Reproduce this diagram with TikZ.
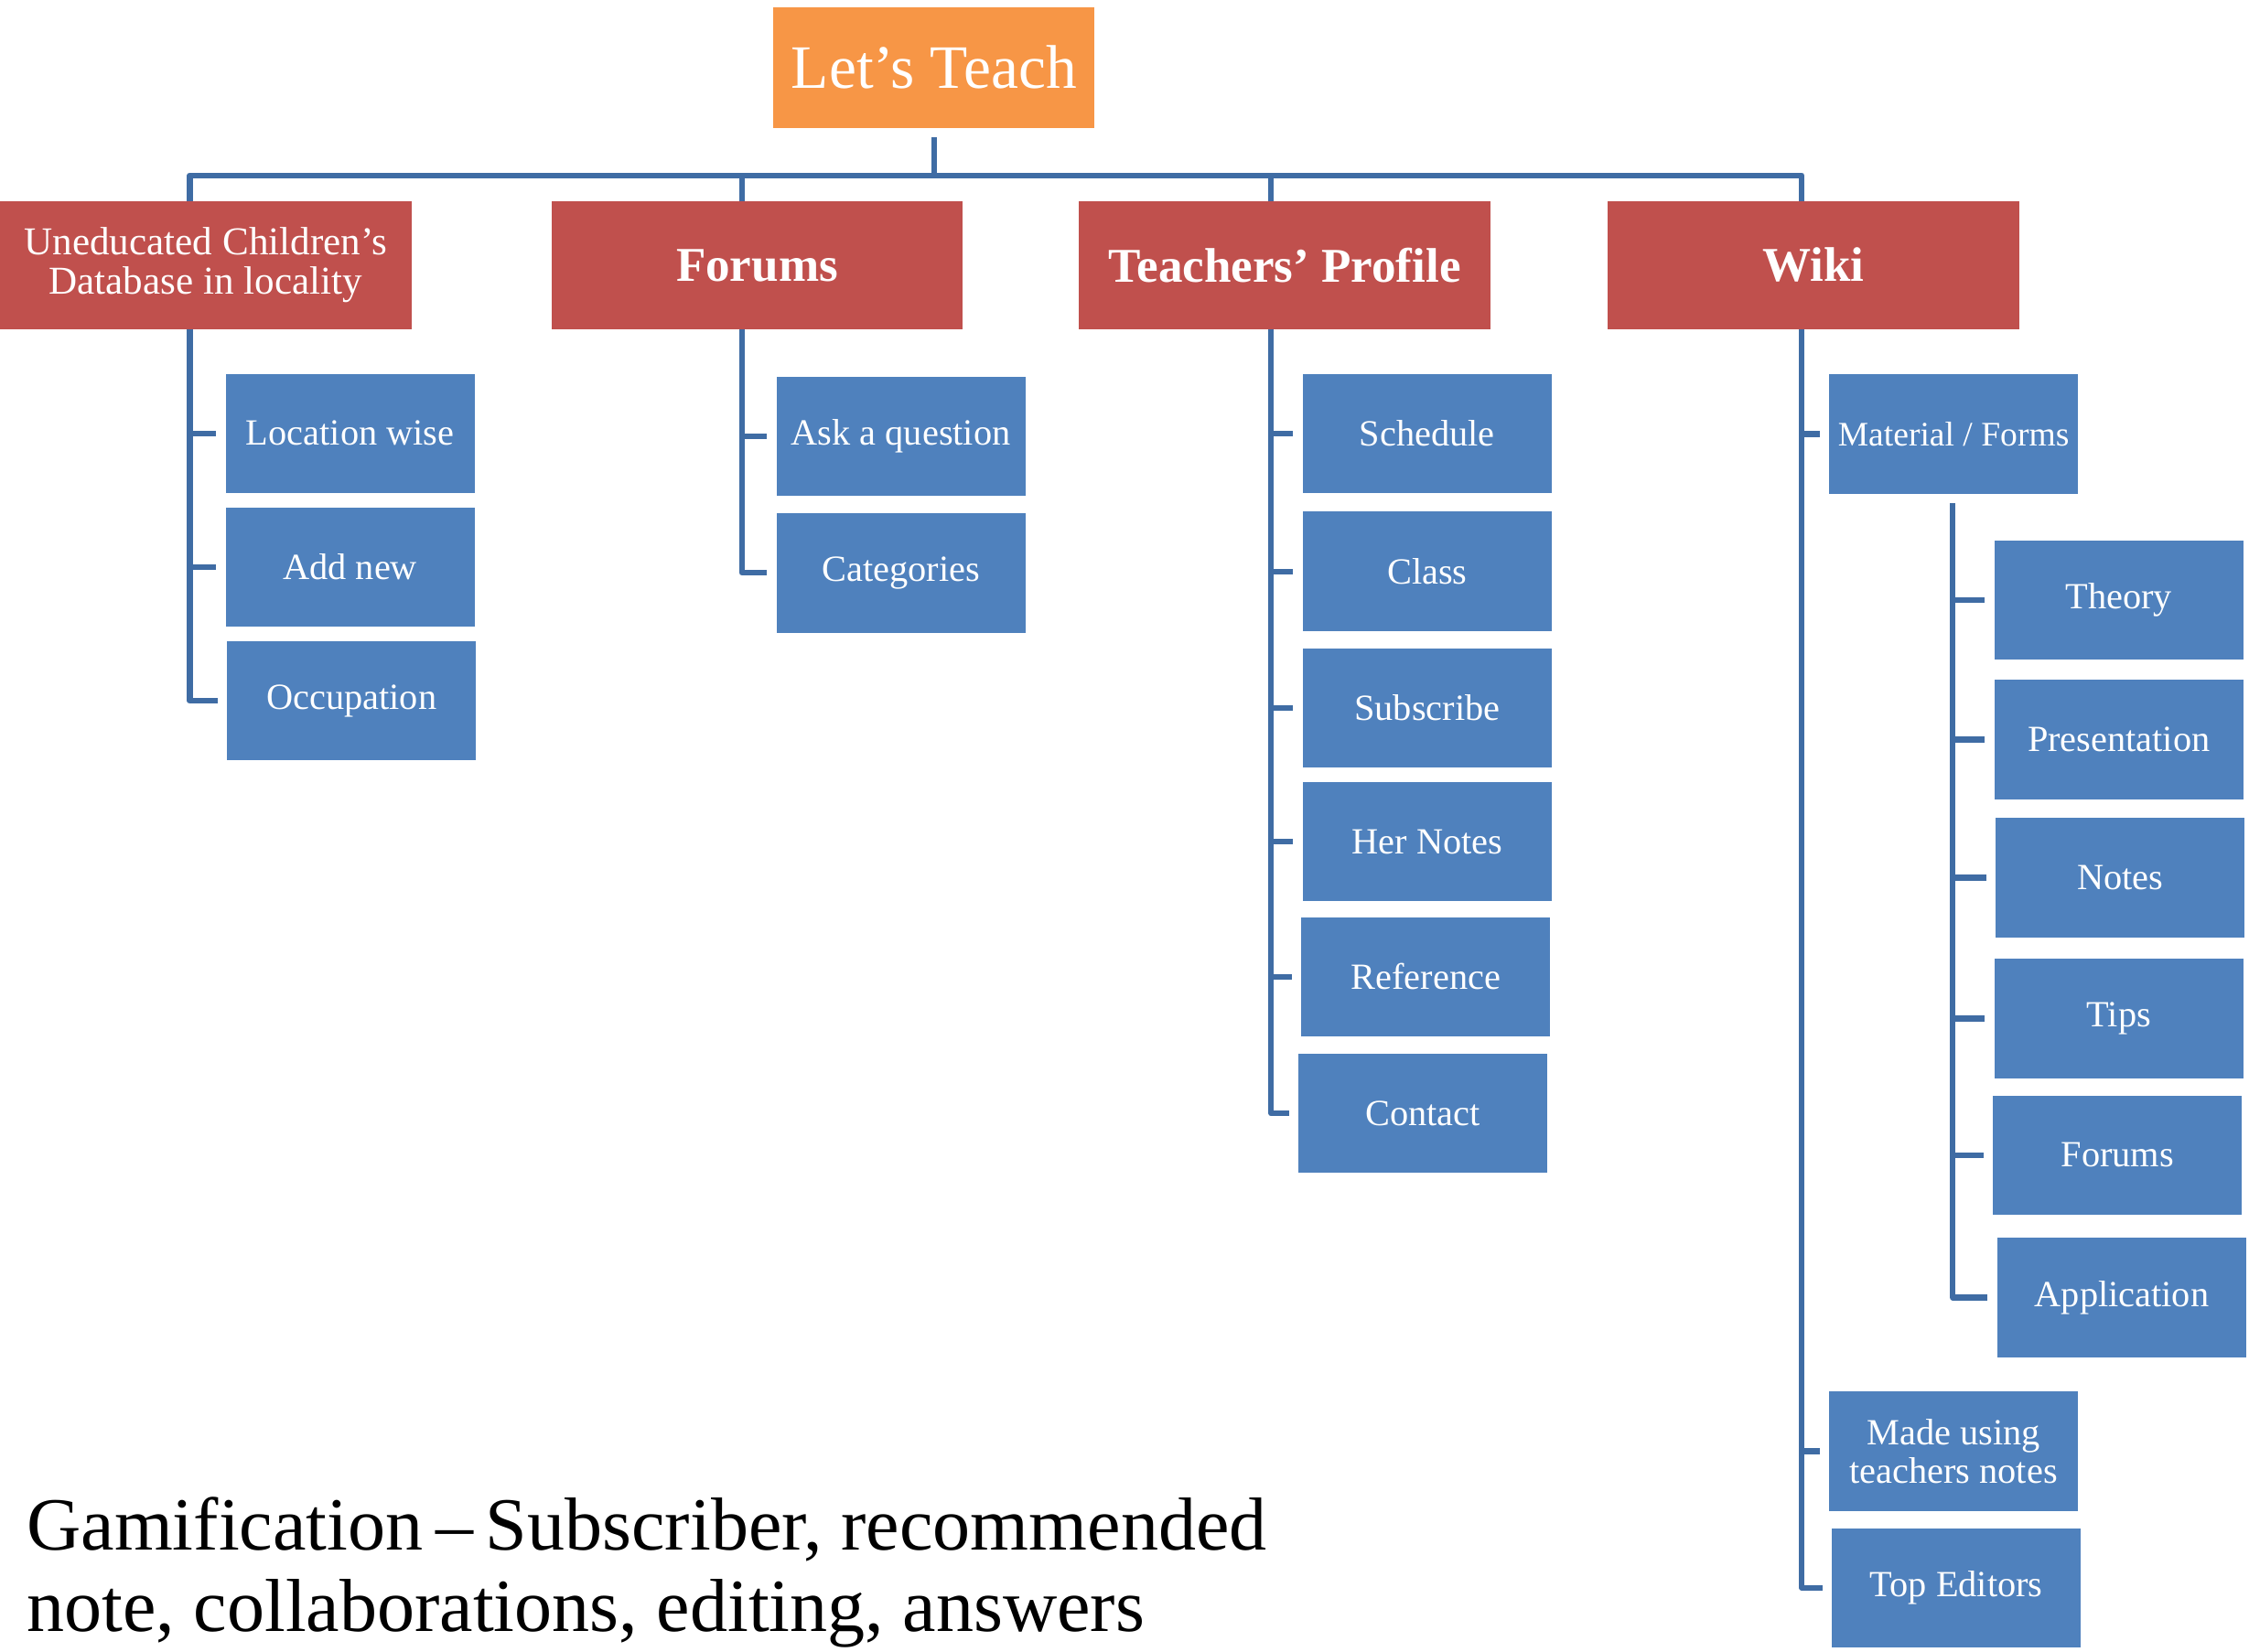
\documentclass[tikz,border=0pt]{standalone}
\usepackage{fontspec}
\setmainfont{Liberation Serif}
\definecolor{teachorange}{HTML}{F79646}
\definecolor{headred}{HTML}{C0504D}
\definecolor{leafblue}{HTML}{4F81BD}
\definecolor{linkblue}{HTML}{3F6CA4}
\newcommand\branchto[2]{\draw[link] (#1) |- ([xshift=-.06cm]#2.west);}

\begin{document}
\begin{tikzpicture}[x=.01cm,y=-.01cm,
    rootbox/.style={fill=teachorange,text=white,minimum width=2.23cm,minimum height=.84cm,inner sep=0pt,font=\fontsize{12.2}{14}\selectfont},
    headbox/.style={fill=headred,text=white,minimum width=2.86cm,minimum height=.89cm,inner sep=0pt,align=center,font=\bfseries\fontsize{9.6}{11}\selectfont},
    leaf/.style={fill=leafblue,text=white,minimum width=1.73cm,minimum height=.83cm,inner sep=0pt,align=center,font=\fontsize{7.3}{7.7}\selectfont},
    link/.style={draw=linkblue,line width=.04cm,line join=round}]
    \useasboundingbox (0,0) rectangle (1564,1149);

    \node(root)[rootbox] at (649.5,47){Let’s Teach};

    \node(db)[headbox,font=\fontsize{7.8}{7.7}\selectfont] at (143,184.5){Uneducated Children’s\\Database in locality};
    \node(fo)[headbox] at (526.5,184.5){Forums};
    \node(tp)[headbox] at (893.5,184.5){Teachers’ Profile};
    \node(wk)[headbox] at (1261,184.5){Wiki};

    \node(lw)[leaf] at (243.5,301.5){Location wise};
    \node(an)[leaf] at (243.5,394.5){Add new};
    \node(oc)[leaf] at (244.5,487.5){Occupation};

    \node(aq)[leaf] at (626.5,303.5){Ask a question};
    \node(ca)[leaf] at (626.5,398.5){Categories};

    \node(sc)[leaf] at (992.5,301.5){Schedule};
    \node(cl)[leaf] at (992.5,397.5){Class};
    \node(su)[leaf] at (992.5,492.5){Subscribe};
    \node(hn)[leaf] at (992.5,585.5){Her Notes};
    \node(re)[leaf] at (991.5,679.5){Reference};
    \node(co)[leaf] at (989.5,774.5){Contact};

    \node(mf)[leaf,font=\fontsize{6.8}{7.7}\selectfont] at (1358.5,302){Material / Forms};
    \node(th)[leaf] at (1473.5,417.5){Theory};
    \node(pr)[leaf] at (1473.5,514.5){Presentation};
    \node(no)[leaf] at (1474.5,610.5){Notes};
    \node(ti)[leaf] at (1473.5,708.5){Tips};
    \node(wf)[leaf] at (1472.5,803.5){Forums};
    \node(ap)[leaf] at (1475.5,902.5){Application};
    \node(mu)[leaf] at (1358.5,1009.5){Made using\\teachers notes};
    \node(te)[leaf] at (1360.5,1104.5){Top Editors};

    \node(gam)[anchor=base west,align=left,inner sep=0pt,font=\fontsize{14.85}{16.2}\selectfont] at (18,1135){Gamification\,–\,Subscriber, recommended\\note, collaborations, editing, answers};

    \coordinate(bus) at (650,122);
    \coordinate(dbtop) at (132,140);
    \coordinate(fotop) at (516,140);
    \coordinate(tptop) at (884,140);
    \coordinate(wktop) at (1253,140);
    \coordinate(dbfoot) at (132,229);
    \coordinate(fofoot) at (516,229);
    \coordinate(tpfoot) at (884,229);
    \coordinate(wkfoot) at (1253,229);
    \coordinate(mffoot) at (1358,350);

    \draw[link] ([yshift=-.06cm]root.south) -- (root.south |- bus);
    \draw[link] (dbtop) |- (bus) -| (wktop);
    \draw[link] (fotop) -- (fotop |- bus);
    \draw[link] (tptop) -- (tptop |- bus);

    \branchto{dbfoot}{lw} \branchto{dbfoot}{an} \branchto{dbfoot}{oc}
    \branchto{fofoot}{aq} \branchto{fofoot}{ca}
    \branchto{tpfoot}{sc} \branchto{tpfoot}{cl} \branchto{tpfoot}{su}
    \branchto{tpfoot}{hn} \branchto{tpfoot}{re} \branchto{tpfoot}{co}
    \branchto{wkfoot}{mf} \branchto{wkfoot}{mu} \branchto{wkfoot}{te}
    \branchto{mffoot}{th} \branchto{mffoot}{pr} \branchto{mffoot}{no}
    \branchto{mffoot}{ti} \branchto{mffoot}{wf} \branchto{mffoot}{ap}
\end{tikzpicture}
\end{document}
